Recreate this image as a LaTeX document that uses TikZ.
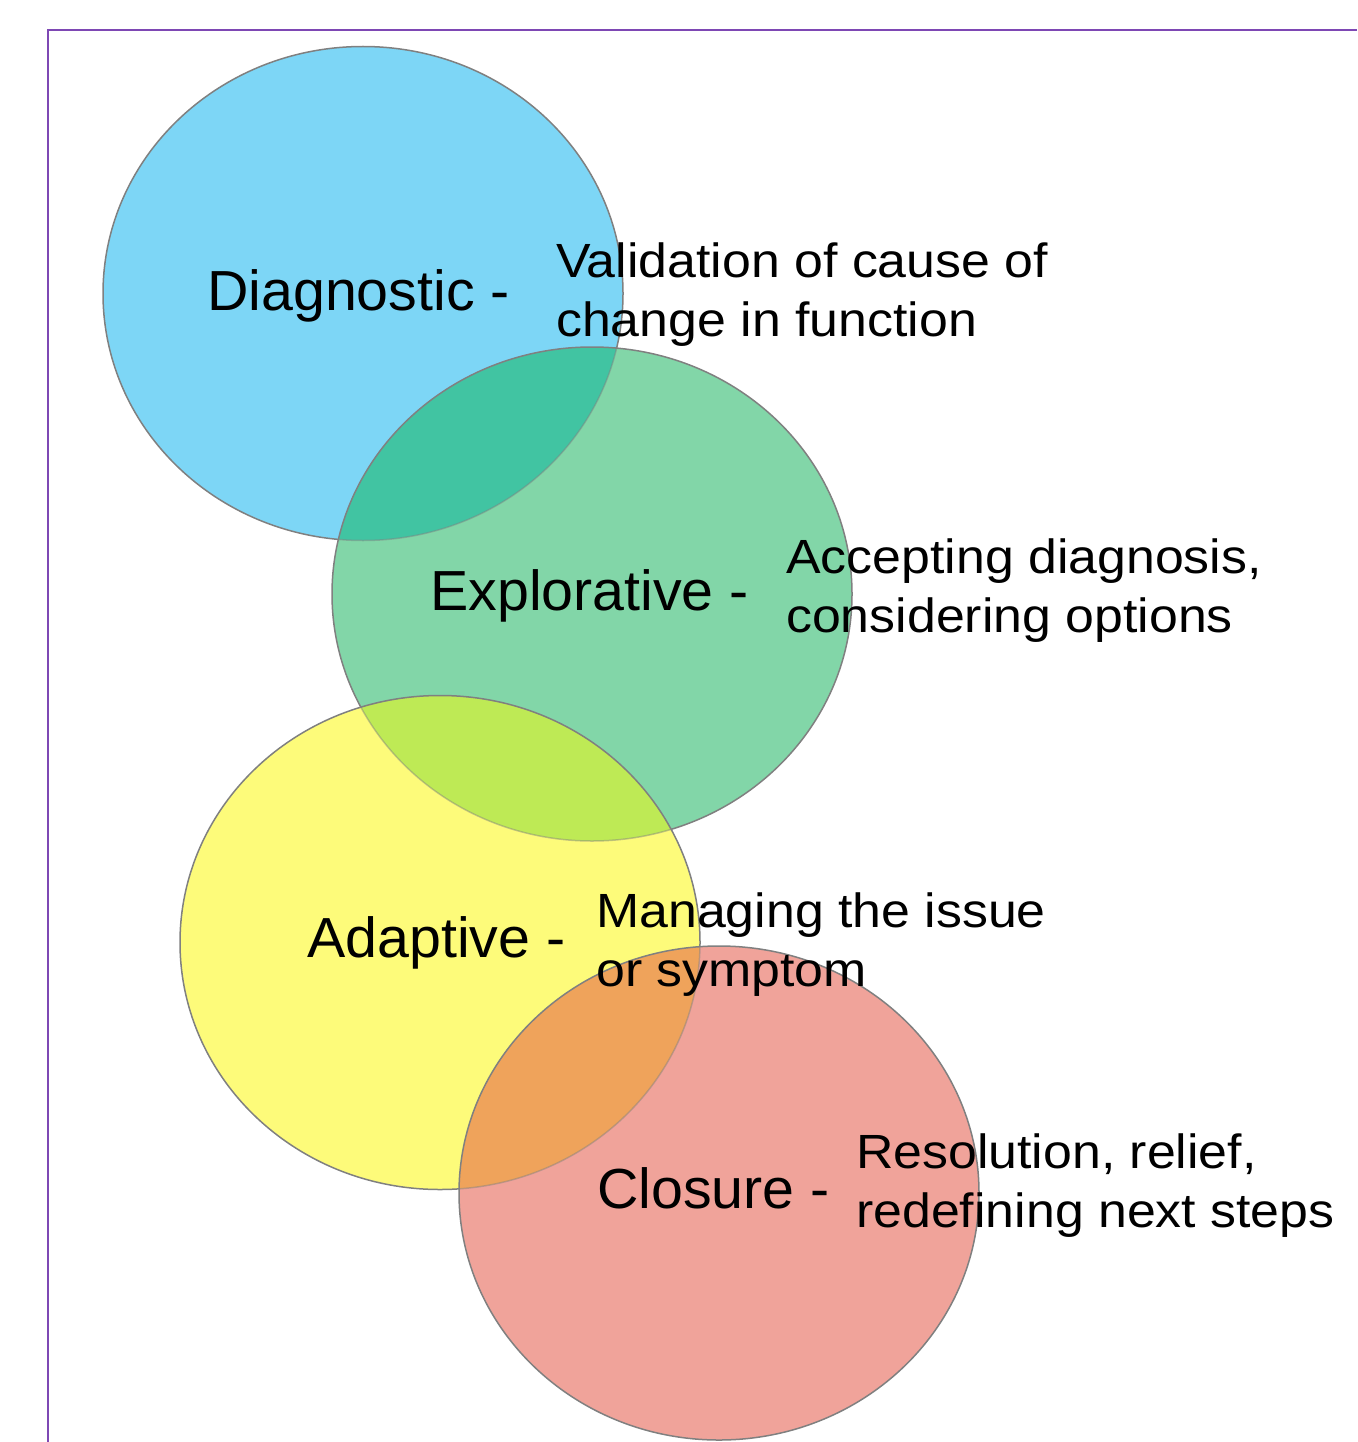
\documentclass[tikz,border=0pt]{standalone}
\usepackage{fontspec}
\setmainfont{Liberation Sans}
\usetikzlibrary{calc}

\definecolor{frameviolet}{HTML}{7E48B4}
\definecolor{ringgray}{HTML}{808080}
\definecolor{diagblue}{HTML}{7DD6F6}
\definecolor{explgreen}{HTML}{82D6A8}
\definecolor{adaptyellow}{HTML}{FDFB7A}
\definecolor{closered}{HTML}{F0A39A}
\definecolor{tealmix}{HTML}{41C4A2}
\definecolor{limemix}{HTML}{BEEA55}
\definecolor{orangemix}{HTML}{EFA35B}

% the four phase discs (slightly wide ellipses)
\def\discA{(363,293.5) ellipse [x radius=260pt, y radius=247pt]}
\def\discB{(592,594) ellipse [x radius=260pt, y radius=247pt]}
\def\discC{(440,942.5) ellipse [x radius=260pt, y radius=247pt]}
\def\discD{(719,1193) ellipse [x radius=260pt, y radius=247pt]}

\tikzset{
  rim/.style={draw=ringgray, line width=1.5pt},
  hiddenrim/.style={draw=ringgray, line width=1.5pt, draw opacity=0.45},
  phase/.style={anchor=base west, inner sep=0pt, xscale=1.015,
    font=\fontsize{56.5pt}{66pt}\selectfont},
  remark/.style={anchor=base west, inner sep=0pt, xscale=1.08,
    font=\fontsize{48pt}{59pt}\selectfont},
}
\newcommand{\pairlines}[2]{\begin{tabular}[t]{@{}l@{}}#1\\#2\end{tabular}}

\begin{document}
\begin{tikzpicture}[x=1pt, y=-1pt]
\useasboundingbox (0,0) rectangle (1357,1442);
\fill[white] (0,0) rectangle (1357,1442);

% frame
\coordinate (fbl) at (48,1442);
\coordinate (ftl) at (48,30);
\coordinate (ftr) at (1357,30);
\draw[frameviolet, line width=2pt] (fbl) -- (ftl) -- (ftr);

% Diagnostic
\fill[diagblue] \discA;
\draw[rim] \discA;

% Explorative over Diagnostic
\fill[explgreen] \discB;
\begin{scope}
  \clip \discA;
  \fill[tealmix] \discB;
\end{scope}
\begin{scope}
  \clip \discB;
  \draw[hiddenrim] \discA;
\end{scope}
\draw[rim] \discB;

% Adaptive over Explorative
\fill[adaptyellow] \discC;
\begin{scope}
  \clip \discB;
  \fill[limemix] \discC;
\end{scope}
\begin{scope}
  \clip \discC;
  \draw[hiddenrim] \discB;
\end{scope}
\draw[rim] \discC;

% Closure over Adaptive
\fill[closered] \discD;
\begin{scope}
  \clip \discC;
  \fill[orangemix] \discD;
\end{scope}
\begin{scope}
  \clip \discD;
  \draw[hiddenrim] \discC;
\end{scope}
\draw[rim] \discD;

% labels
\node[phase] (diag) at (207,310) {Diagnostic -};
\node[remark] (diagtxt) at (556,277) {\pairlines{Validation of cause of}{change in function}};

\node[phase] (expl) at (430,610) {Explorative -};
\node[remark] (expltxt) at (786,573) {\pairlines{Accepting diagnosis,}{considering options}};

\node[phase] (adapt) at (307,957) {Adaptive -};
\node[remark] (adapttxt) at (596,927) {\pairlines{Managing the issue}{or symptom}};

\node[phase] (clos) at (597,1208) {Closure -};
\node[remark] (clostxt) at (856,1168) {\pairlines{Resolution, relief,}{redefining next steps}};
\end{tikzpicture}
\end{document}
